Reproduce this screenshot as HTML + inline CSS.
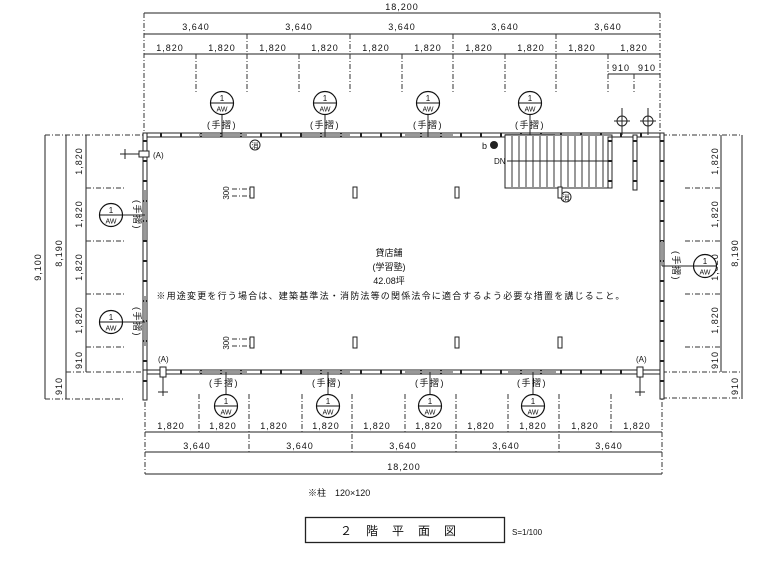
<!DOCTYPE html>
<html><head><meta charset="utf-8"><style>
html,body{margin:0;padding:0;background:#fff;}
svg{display:block;}
text{font-family:"Liberation Sans","Noto Sans CJK JP",sans-serif;fill:#111;}
.d{font-size:9px;letter-spacing:1px;}
.l{stroke:#222;stroke-width:1;fill:none;}
.dl{stroke:#333;stroke-width:1;stroke-dasharray:5,2,1,2;fill:none;}
.w{stroke:#222;stroke-width:1;fill:#fff;}
</style></head><body>
<svg width="773" height="572" viewBox="0 0 773 572" xmlns="http://www.w3.org/2000/svg">
<defs>
<g id="aw"><circle r="11.5" fill="#fff" stroke="#111" stroke-width="1.2"/><line x1="-11.5" y1="0" x2="11.5" y2="0" stroke="#111"/><text x="0" y="-2" font-size="8" text-anchor="middle">1</text><text x="0" y="8.5" font-size="7" text-anchor="middle">AW</text></g>
<pattern id="wp" width="20" height="5" patternUnits="userSpaceOnUse"><rect width="20" height="5" fill="#fff"/><rect x="0" y="0" width="2" height="5" fill="#222"/></pattern>
<pattern id="wpv" width="5" height="20" patternUnits="userSpaceOnUse"><rect width="5" height="20" fill="#fff"/><rect x="0" y="0" width="5" height="2" fill="#222"/></pattern>
</defs>

<!-- top dims -->
<line class="l" x1="144" y1="13" x2="660" y2="13"/>
<text class="d" x="402" y="10" text-anchor="middle">18,200</text>
<line class="l" x1="144" y1="34" x2="660" y2="34"/>
<line class="l" x1="144" y1="54" x2="660" y2="54"/>
<line class="l" x1="608" y1="74" x2="660" y2="74"/>
<g class="d" text-anchor="middle">
<text x="196" y="30">3,640</text><text x="299" y="30">3,640</text><text x="402" y="30">3,640</text><text x="505" y="30">3,640</text><text x="608" y="30">3,640</text>
<text x="170" y="51">1,820</text><text x="222" y="51">1,820</text><text x="273" y="51">1,820</text><text x="325" y="51">1,820</text><text x="376" y="51">1,820</text><text x="428" y="51">1,820</text><text x="479" y="51">1,820</text><text x="531" y="51">1,820</text><text x="582" y="51">1,820</text><text x="634" y="51">1,820</text>
<text x="621" y="71">910</text><text x="647" y="71">910</text>
</g>
<g class="dl">
<line x1="144" y1="13" x2="144" y2="135"/><line x1="660" y1="13" x2="660" y2="135"/>
<line x1="196" y1="54" x2="196" y2="92"/><line x1="247" y1="34" x2="247" y2="92"/><line x1="299" y1="54" x2="299" y2="92"/><line x1="350" y1="34" x2="350" y2="92"/><line x1="402" y1="54" x2="402" y2="92"/><line x1="453" y1="34" x2="453" y2="92"/><line x1="505" y1="54" x2="505" y2="92"/><line x1="556" y1="34" x2="556" y2="92"/><line x1="608" y1="54" x2="608" y2="92"/><line x1="634" y1="74" x2="634" y2="92"/>
</g>

<!-- bottom dims -->
<line class="l" x1="145" y1="432" x2="662" y2="432"/>
<line class="l" x1="145" y1="452" x2="662" y2="452"/>
<line class="l" x1="145" y1="474" x2="662" y2="474"/>
<g class="d" text-anchor="middle">
<text x="171" y="429">1,820</text><text x="223" y="429">1,820</text><text x="274" y="429">1,820</text><text x="326" y="429">1,820</text><text x="377" y="429">1,820</text><text x="429" y="429">1,820</text><text x="481" y="429">1,820</text><text x="533" y="429">1,820</text><text x="585" y="429">1,820</text><text x="637" y="429">1,820</text>
<text x="197" y="449">3,640</text><text x="300" y="449">3,640</text><text x="403" y="449">3,640</text><text x="506" y="449">3,640</text><text x="609" y="449">3,640</text>
<text x="404" y="470">18,200</text>
</g>
<g class="dl">
<line x1="145" y1="372" x2="145" y2="474"/><line x1="662" y1="372" x2="662" y2="474"/>
<line x1="199" y1="394" x2="199" y2="432"/><line x1="249" y1="394" x2="249" y2="452"/><line x1="302" y1="394" x2="302" y2="432"/><line x1="352" y1="394" x2="352" y2="452"/><line x1="405" y1="394" x2="405" y2="432"/><line x1="456" y1="394" x2="456" y2="452"/><line x1="508" y1="394" x2="508" y2="432"/><line x1="559" y1="394" x2="559" y2="452"/><line x1="611" y1="394" x2="611" y2="432"/>
</g>

<!-- left dims -->
<line class="l" x1="45" y1="135" x2="45" y2="399"/>
<line class="l" x1="66" y1="135" x2="66" y2="399"/>
<line class="l" x1="86" y1="135" x2="86" y2="372"/>
<g class="dl">
<line x1="45" y1="135" x2="145" y2="135"/><line x1="45" y1="399" x2="125" y2="399"/><line x1="66" y1="372" x2="145" y2="372"/>
<line x1="86" y1="188" x2="125" y2="188"/><line x1="86" y1="241" x2="125" y2="241"/><line x1="86" y1="294" x2="125" y2="294"/><line x1="86" y1="347" x2="125" y2="347"/>
</g>
<g class="d" text-anchor="middle">
<text transform="translate(41,267) rotate(-90)">9,100</text>
<text transform="translate(62,253) rotate(-90)">8,190</text>
<text transform="translate(62,386) rotate(-90)">910</text>
<text transform="translate(82,161) rotate(-90)">1,820</text>
<text transform="translate(82,214) rotate(-90)">1,820</text>
<text transform="translate(82,267) rotate(-90)">1,820</text>
<text transform="translate(82,320) rotate(-90)">1,820</text>
<text transform="translate(82,360) rotate(-90)">910</text>
</g>

<!-- right dims -->
<line class="l" x1="721" y1="135" x2="721" y2="372"/>
<line class="l" x1="742" y1="135" x2="742" y2="399"/>
<g class="dl">
<line x1="662" y1="135" x2="742" y2="135"/><line x1="662" y1="372" x2="742" y2="372"/><line x1="662" y1="398" x2="742" y2="398"/>
<line x1="685" y1="188" x2="721" y2="188"/><line x1="685" y1="241" x2="721" y2="241"/><line x1="685" y1="294" x2="721" y2="294"/><line x1="685" y1="347" x2="721" y2="347"/>
</g>
<g class="d" text-anchor="middle">
<text transform="translate(718,161) rotate(-90)">1,820</text>
<text transform="translate(718,214) rotate(-90)">1,820</text>
<text transform="translate(718,267) rotate(-90)">1,820</text>
<text transform="translate(718,320) rotate(-90)">1,820</text>
<text transform="translate(718,360) rotate(-90)">910</text>
<text transform="translate(738,253) rotate(-90)">8,190</text>
<text transform="translate(738,386) rotate(-90)">910</text>
</g>

<!-- walls -->
<rect x="143" y="133" width="521" height="4" fill="url(#wp)" stroke="#222"/>
<rect x="143" y="370" width="521" height="4" fill="url(#wp)" stroke="#222"/>
<rect x="143" y="133" width="4" height="241" fill="url(#wpv)" stroke="#222"/>
<rect x="660" y="133" width="4" height="266" fill="url(#wpv)" stroke="#222"/>
<rect x="143" y="370" width="4" height="30" fill="url(#wpv)" stroke="#222"/>
<g fill="#999">
<rect x="199" y="134" width="48" height="2"/><rect x="302" y="134" width="48" height="2"/><rect x="405" y="134" width="48" height="2"/><rect x="505" y="134" width="50" height="2"/>
<rect x="199" y="371" width="48" height="2"/><rect x="302" y="371" width="48" height="2"/><rect x="405" y="371" width="48" height="2"/><rect x="508" y="371" width="48" height="2"/>
<rect x="144" y="190" width="2" height="50"/><rect x="144" y="296" width="2" height="50"/><rect x="661" y="241" width="2" height="25"/>
</g>
<g class="l"><line x1="222" y1="100" x2="222" y2="137"/><line x1="325" y1="100" x2="325" y2="137"/><line x1="428" y1="100" x2="428" y2="137"/><line x1="530" y1="100" x2="530" y2="137"/>
<line x1="226" y1="372" x2="226" y2="405"/><line x1="328" y1="372" x2="328" y2="405"/><line x1="430" y1="372" x2="430" y2="405"/><line x1="533" y1="372" x2="533" y2="405"/>
<line x1="111" y1="215" x2="145" y2="215"/><line x1="111" y1="322" x2="145" y2="322"/><line x1="662" y1="266" x2="705" y2="266"/></g>
<use href="#aw" x="222" y="103"/><use href="#aw" x="325" y="103"/><use href="#aw" x="428" y="103"/><use href="#aw" x="530" y="103"/>
<use href="#aw" x="226" y="406"/><use href="#aw" x="328" y="406"/><use href="#aw" x="430" y="406"/><use href="#aw" x="533" y="406"/>
<use href="#aw" x="111" y="215"/><use href="#aw" x="111" y="322"/><use href="#aw" x="705" y="266"/>
<g font-size="9" text-anchor="middle" letter-spacing="1.5">
<text x="222" y="128">(手摺)</text><text x="325" y="128">(手摺)</text><text x="428" y="128">(手摺)</text><text x="530" y="128">(手摺)</text>
<text x="224" y="386">(手摺)</text><text x="327" y="386">(手摺)</text><text x="430" y="386">(手摺)</text><text x="532" y="386">(手摺)</text>
<text transform="translate(134,215) rotate(90)">(手摺)</text><text transform="translate(134,322) rotate(90)">(手摺)</text><text transform="translate(673,266) rotate(90)">(手摺)</text>
</g>

<!-- stair -->
<rect x="505" y="135" width="107" height="53" fill="#fff" stroke="#222"/>
<g stroke="#555" stroke-width="1.2">
<line x1="512" y1="136" x2="512" y2="187"/><line x1="519" y1="136" x2="519" y2="187"/><line x1="526" y1="136" x2="526" y2="187"/><line x1="533" y1="136" x2="533" y2="187"/><line x1="540" y1="136" x2="540" y2="187"/><line x1="547" y1="136" x2="547" y2="187"/><line x1="554" y1="136" x2="554" y2="187"/><line x1="561" y1="136" x2="561" y2="187"/><line x1="568" y1="136" x2="568" y2="187"/><line x1="575" y1="136" x2="575" y2="187"/><line x1="582" y1="136" x2="582" y2="187"/><line x1="589" y1="136" x2="589" y2="187"/><line x1="596" y1="136" x2="596" y2="187"/><line x1="603" y1="136" x2="603" y2="187"/>
</g>
<line class="l" x1="507" y1="161" x2="610" y2="161"/>
<rect x="608" y="137" width="4" height="51" fill="url(#wpv)" stroke="#222"/>
<rect x="633" y="135" width="4" height="55" fill="url(#wpv)" stroke="#222"/>
<text x="494" y="164" font-size="8">DN</text>
<text x="482" y="149" font-size="9">b</text><circle cx="494" cy="145" r="4" fill="#222"/>
<circle cx="566" cy="197" r="5" class="w"/><text x="566" y="200" font-size="7" text-anchor="middle">消</text>
<circle cx="255" cy="145" r="5" class="w"/><text x="255" y="148" font-size="7" text-anchor="middle">消</text>
<g class="l"><circle cx="622" cy="121" r="5"/><line x1="614" y1="121" x2="630" y2="121"/><line x1="622" y1="108" x2="622" y2="135"/>
<circle cx="648" cy="121" r="5"/><line x1="640" y1="121" x2="656" y2="121"/><line x1="648" y1="108" x2="648" y2="135"/></g>

<g fill="#fff" stroke="#222">
<rect x="250" y="187" width="4" height="11"/><rect x="353" y="187" width="4" height="11"/><rect x="455" y="187" width="4" height="11"/><rect x="558" y="187" width="4" height="11"/>
<rect x="250" y="337" width="4" height="11"/><rect x="353" y="337" width="4" height="11"/><rect x="455" y="337" width="4" height="11"/><rect x="558" y="337" width="4" height="11"/>
<rect x="139" y="151" width="10" height="6"/><rect x="160" y="367" width="6" height="10"/><rect x="637" y="367" width="6" height="10"/>
</g>
<g class="dl"><line x1="232" y1="189" x2="250" y2="189"/><line x1="232" y1="196" x2="250" y2="196"/><line x1="232" y1="339" x2="250" y2="339"/><line x1="232" y1="346" x2="250" y2="346"/></g>
<g font-size="8" text-anchor="middle"><text transform="translate(229,193) rotate(-90)">300</text><text transform="translate(229,343) rotate(-90)">300</text></g>
<text x="153" y="158" font-size="8">(A)</text><text x="158" y="362" font-size="8">(A)</text><text x="636" y="362" font-size="8">(A)</text>
<g class="l"><line x1="120" y1="154" x2="139" y2="154"/><line x1="125" y1="149" x2="125" y2="159"/><line x1="163" y1="377" x2="163" y2="396"/><line x1="158" y1="392" x2="168" y2="392"/><line x1="640" y1="377" x2="640" y2="396"/><line x1="635" y1="392" x2="645" y2="392"/></g>

<g font-size="9" text-anchor="middle">
<text x="389" y="256">貸店舗</text>
<text x="389" y="270">(学習塾)</text>
<text x="389" y="284">42.08坪</text>
<text x="391" y="299" letter-spacing="1.2">※用途変更を行う場合は、建築基準法・消防法等の関係法令に適合するよう必要な措置を講じること。</text>
</g>

<text x="308" y="496" font-size="9">※柱　120×120</text>
<rect x="305.5" y="517.5" width="199" height="25" fill="#fff" stroke="#222" stroke-width="1.3"/>
<text x="405" y="535" font-size="12" text-anchor="middle" letter-spacing="14">２階平面図</text>
<text x="512" y="535" font-size="8">S=1/100</text>
</svg>
</body></html>
